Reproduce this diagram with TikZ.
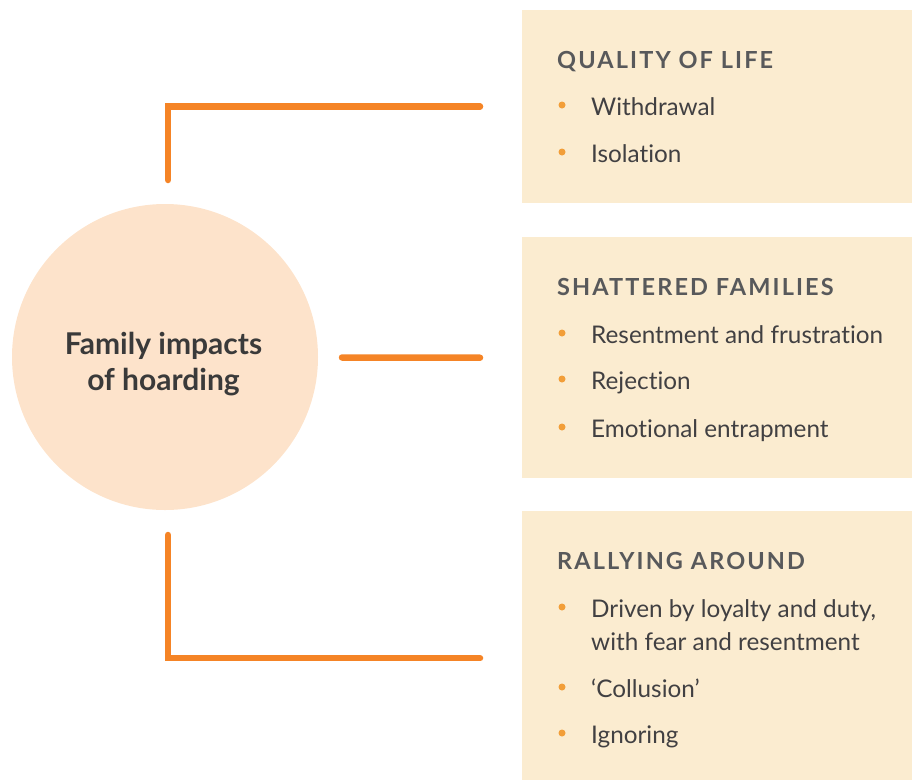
\documentclass[tikz,border=0pt]{standalone}
\usepackage{fontspec}
\setmainfont{Lato}
\definecolor{orangeline}{HTML}{F58426}
\definecolor{hubfill}{HTML}{FDE3CB}
\definecolor{boxfill}{HTML}{FBECD0}
\definecolor{bulletc}{HTML}{F29E38}
\definecolor{headc}{HTML}{58595B}
\definecolor{itemc}{HTML}{414042}
\definecolor{hubtext}{HTML}{3A3A3A}
\tikzset{
  conn/.style={draw=orangeline, line width=6.5pt, line cap=round, line join=miter},
  panel/.style={fill=boxfill, draw=none, anchor=north west, minimum width=390pt, inner sep=0pt},
  hub/.style={circle, fill=hubfill, draw=none, minimum size=306pt, inner sep=0pt},
  hubtxt/.style={anchor=base, inner sep=0pt, align=center, text=hubtext,
    font=\fontsize{30}{36}\selectfont\bfseries},
  heading/.style={anchor=base west, inner sep=0pt, text=headc,
    font=\fontsize{23.5}{27}\selectfont\bfseries\addfontfeature{LetterSpace=9}},
  item/.style={anchor=base west, inner sep=0pt, text=itemc, align=left,
    font=\fontsize{24.3}{33}\selectfont\addfontfeature{Ligatures=NoCommon}},
  dot/.style={circle, fill=bulletc, draw=none, inner sep=0pt, minimum size=7pt}
}
\begin{document}
\begin{tikzpicture}[x=1pt,y=-1pt]
\useasboundingbox (0,0) rectangle (912,780);
% panels
\node[panel, minimum height=193pt] (b1) at (522,10) {};
\node[panel, minimum height=241pt] (b2) at (522,237) {};
\node[panel, minimum height=269pt] (b3) at (522,511) {};
% hub
\node[hub] (hub) at (165,357) {};
\node[hubtxt] (hubt) at (163.5,390) {Family impacts\\of hoarding};
% connector end points
\coordinate (h1) at (168,180);
\coordinate (h2) at (342,357.5);
\coordinate (h3) at (168,535);
\draw[conn] (h1) |- ([xshift=-42pt]b1.west);
\draw[conn] (h2) -- ([xshift=-42pt]b2.west);
\draw[conn] (h3) |- ([xshift=-42pt,yshift=-12.5pt]b3.west);
% box 1
\node[heading] (t1) at (557,68) {QUALITY OF LIFE};
\node[dot] (d11) at (562,105) {};
\node[item] (i11) at (591,115) {Withdrawal};
\node[dot] (d12) at (562,152) {};
\node[item] (i12) at (591,162) {Isolation};
% box 2
\node[heading] (t2) at (557,295) {SHATTERED FAMILIES};
\node[dot] (d21) at (562,333) {};
\node[item] (i21) at (591,343) {Resentment and frustration};
\node[dot] (d22) at (562,379) {};
\node[item] (i22) at (591,389) {Rejection};
\node[dot] (d23) at (562,427) {};
\node[item] (i23) at (591,437) {Emotional entrapment};
% box 3
\node[heading] (t3) at (557,569) {RALLYING AROUND};
\node[dot] (d31) at (562,607) {};
\node[item] (i31) at (591,650) {Driven by loyalty and duty,\\with fear and resentment};
\node[dot] (d32) at (562,687) {};
\node[item] (i32) at (591,697) {‘Collusion’};
\node[dot] (d33) at (562,733) {};
\node[item] (i33) at (591,743) {Ignoring};
\end{tikzpicture}
\end{document}
